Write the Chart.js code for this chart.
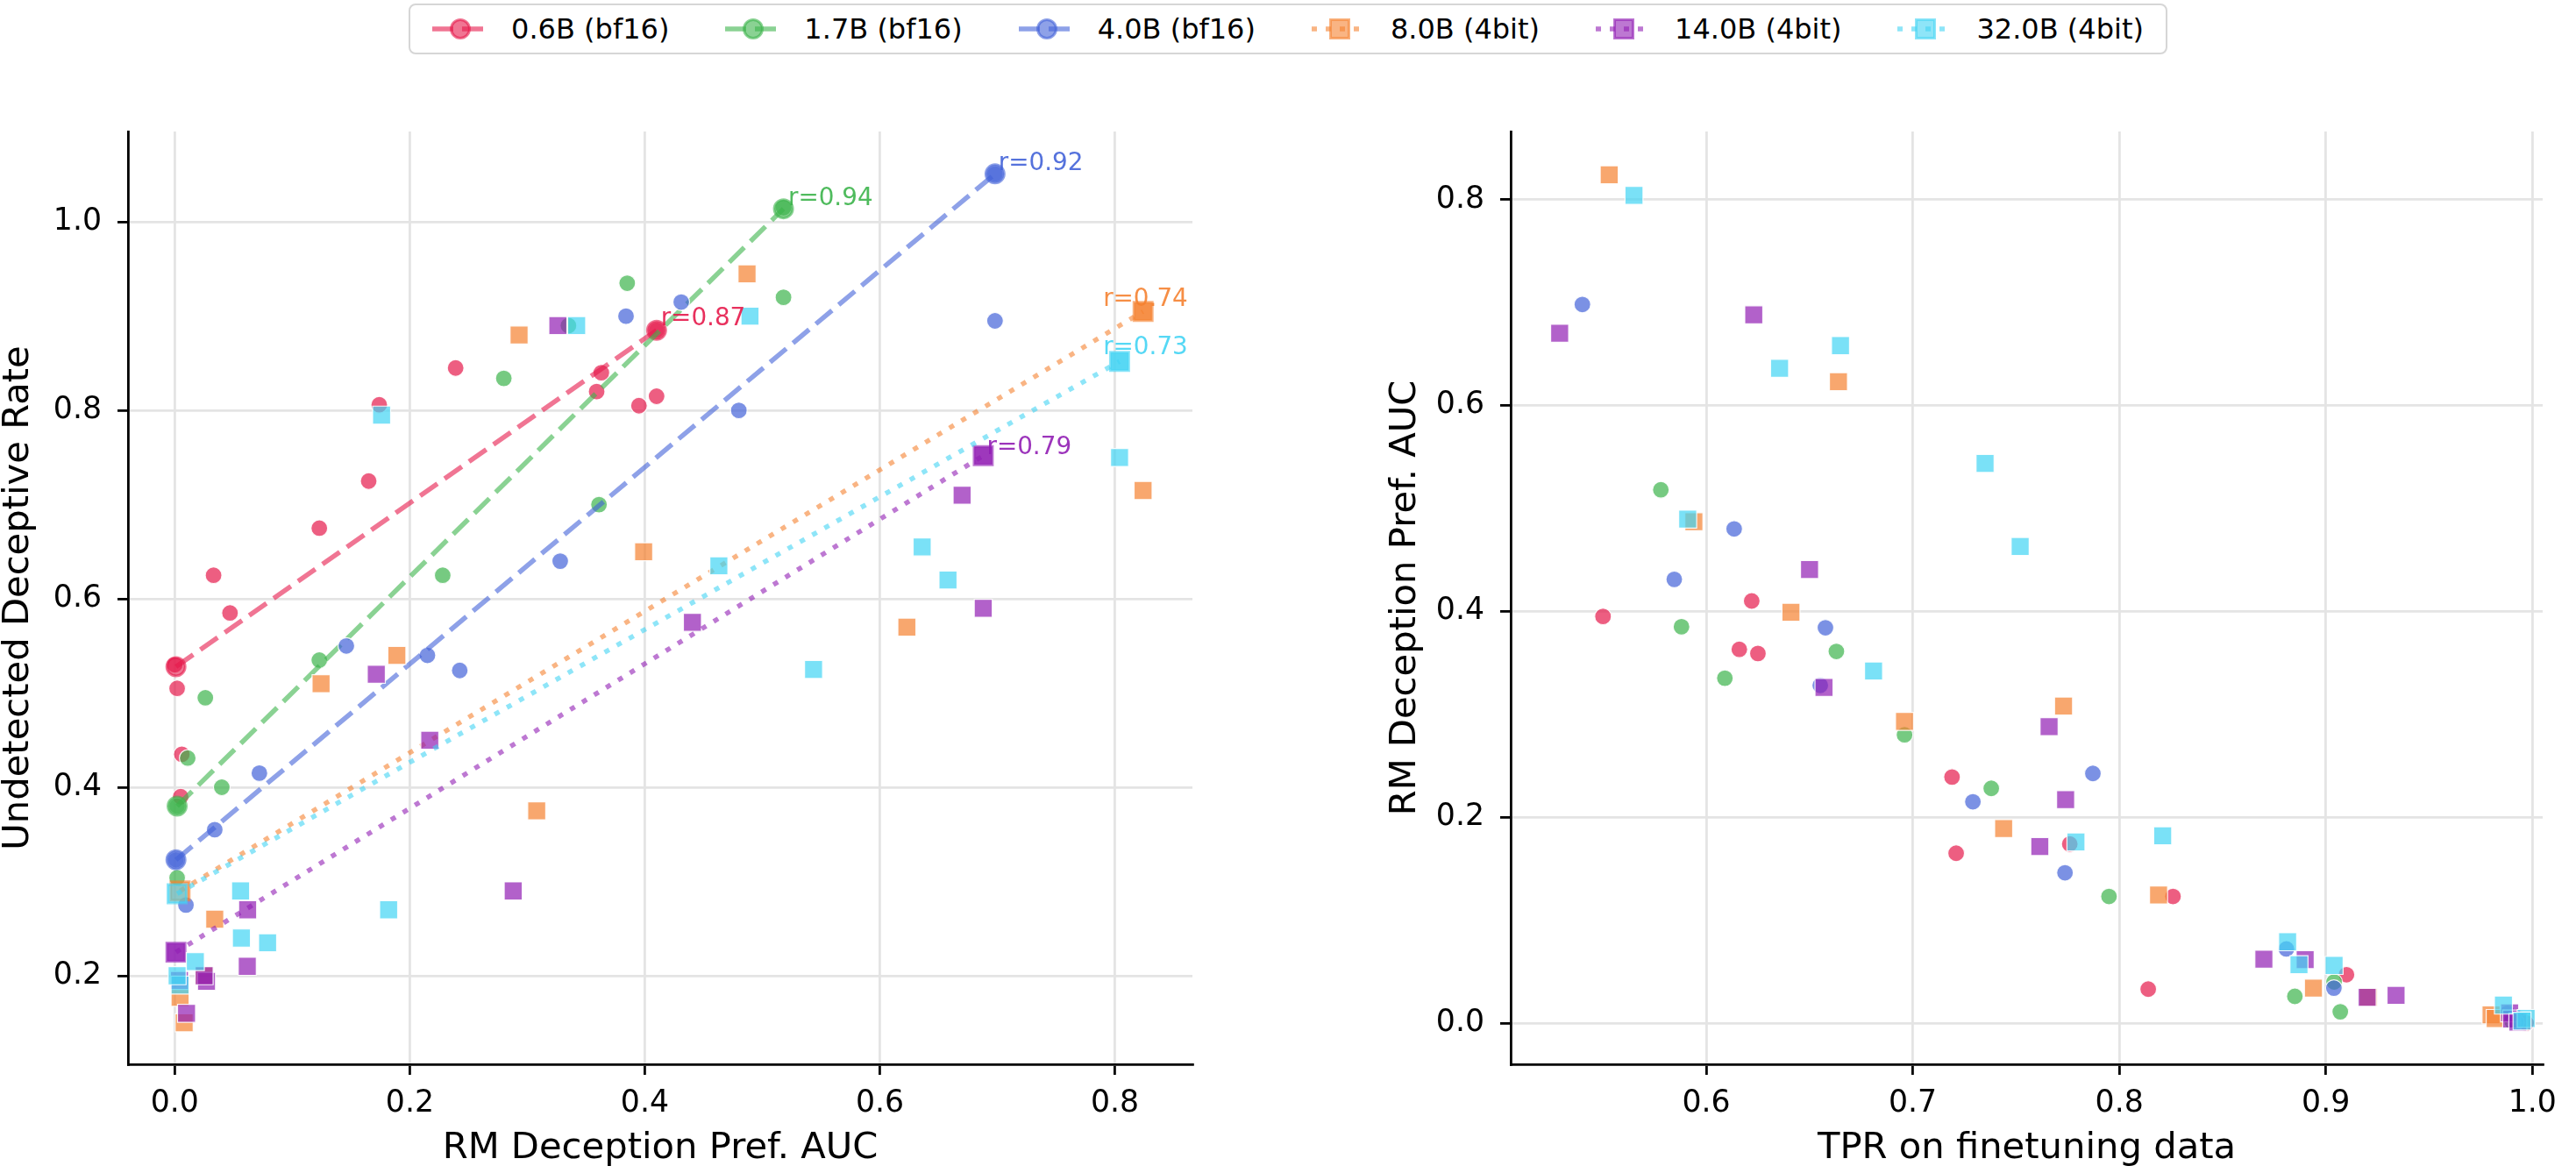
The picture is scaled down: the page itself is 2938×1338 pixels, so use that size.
<!DOCTYPE html>
<html>
<head>
<meta charset="utf-8">
<script src="https://cdn.jsdelivr.net/npm/chart.js"></script>
<style>
  body { margin: 0; background: #ffffff; overflow: hidden; }
  #wrap { position: relative; width: 2938px; height: 1338px; background: #ffffff; font-family: "DejaVu Sans", sans-serif; }
  #legend {
    position: absolute; left: 466px; top: 4px; width: 2006px; height: 58px;
    box-sizing: border-box; border: 2.5px solid #d6d6d6; border-radius: 8px;
    display: flex; align-items: center; justify-content: center; z-index: 2; background: #fff;
  }
  .lg-item { display: flex; align-items: center; font-size: 32px; color: #000; white-space: nowrap; }
  .lg-item canvas { margin-right: 26px; }
  .lg-item + .lg-item { margin-left: 64px; }
  canvas.panel { position: absolute; top: 0; }
</style>
</head>
<body>
<div id="wrap">
  <div id="legend"></div>
  <canvas id="leftChart" class="panel" width="1400" height="1338" style="left:0px"></canvas>
  <canvas id="rightChart" class="panel" width="1356" height="1338" style="left:1582px"></canvas>
</div>
<script>
// model groups
var seriesNames  = ['0.6B (bf16)', '1.7B (bf16)', '4.0B (bf16)', '8.0B (4bit)', '14.0B (4bit)', '32.0B (4bit)'];
var seriesColors = ['#e6194b', '#3cb44b', '#4363d8', '#f58231', '#911eb4', '#42d4f4'];
var seriesQuant  = ['bf16', 'bf16', 'bf16', '4bit', '4bit', '4bit'];

// each point: RM deception pref. AUC, undetected deceptive rate, TPR on finetuning data
// (null TPR = point not shown on the right panel)
var auc06 = [0.410, 0.410, 0.395, 0.363, 0.359, 0.239, 0.174, 0.165, 0.123, 0.047, 0.033, 0.006, 0.005, 0.002, 0.000];
var und06 = [0.885, 0.815, 0.805, 0.840, 0.820, 0.845, 0.806, 0.725, 0.675, 0.585, 0.625, 0.435, 0.390, 0.505, 0.530];
var tpr06 = [0.622, null, 0.550, 0.616, 0.625, 0.719, 0.776, 0.721, 0.826, 0.910, 0.814, 0.992, 0.990, 0.994, 0.997];

var auc17 = [0.518, 0.518, 0.385, 0.361, 0.335, 0.280, 0.228, 0.123, 0.040, 0.026, 0.011, 0.002, 0.002];
var und17 = [1.015, 0.920, 0.935, 0.700, 0.890, 0.834, 0.625, 0.535, 0.400, 0.495, 0.431, 0.380, 0.304];
var tpr17 = [0.578, null, 0.588, 0.663, 0.609, 0.696, 0.738, 0.795, 0.904, 0.885, 0.907, 0.990, null];

var auc40 = [0.698, 0.698, 0.480, 0.431, 0.384, 0.328, 0.2425, 0.215, 0.146, 0.072, 0.034, 0.0095, 0.001];
var und40 = [1.051, 0.895, 0.800, 0.915, 0.900, 0.640, 0.524, 0.540, 0.550, 0.415, 0.355, 0.275, 0.323];
var tpr40 = [0.540, null, 0.6135, 0.5845, 0.6577, 0.6552, 0.7872, 0.7291, 0.7737, 0.8809, 0.9039, 0.988, 0.992];

var auc80 = [0.824, 0.824, 0.623, 0.487, 0.399, 0.308, 0.293, 0.189, 0.1245, 0.034, 0.025, 0.008, 0.0045];
var und80 = [0.905, 0.715, 0.570, 0.945, 0.650, 0.375, 0.880, 0.540, 0.510, 0.260, 0.200, 0.150, 0.177];
var tpr80 = [0.553, null, 0.664, 0.594, 0.641, 0.773, 0.696, 0.744, 0.819, 0.894, 0.9205, 0.980, 0.982];

var auc140 = [0.688, 0.688, 0.670, 0.4405, 0.326, 0.288, 0.217, 0.1715, 0.062, 0.0617, 0.027, 0.025, 0.010, 0.004, 0.001];
var und140 = [0.752, 0.590, 0.710, 0.575, 0.890, 0.290, 0.450, 0.520, 0.270, 0.210, 0.194, 0.200, 0.160, 0.195, 0.225];
var tpr140 = [0.623, null, 0.529, 0.650, 0.657, 0.766, 0.774, 0.7615, 0.870, 0.890, 0.934, 0.920, 0.989, 0.990, 0.993];

var auc320 = [0.804, 0.804, 0.658, 0.636, 0.5436, 0.4895, 0.463, 0.342, 0.182, 0.176, 0.079, 0.0567, 0.056, 0.0175, 0.0045, 0.002];
var und320 = [0.852, 0.750, 0.620, 0.655, 0.525, 0.900, 0.635, 0.890, 0.270, 0.795, 0.235, 0.240, 0.290, 0.215, 0.190, 0.200];
var tpr320 = [0.565, null, 0.665, 0.6355, 0.735, 0.591, 0.752, 0.681, 0.821, 0.779, 0.8815, 0.887, 0.904, 0.986, 0.997, 0.995];

var aucAll = [auc06, auc17, auc40, auc80, auc140, auc320];
var undAll = [und06, und17, und40, und80, und140, und320];
var tprAll = [tpr06, tpr17, tpr40, tpr80, tpr140, tpr320];

// linear fit on the left panel: [x0, y0, x1, y1]
var fitRed    = [0.001, 0.528, 0.410, 0.885];
var fitGreen  = [0.002, 0.380, 0.518, 1.014];
var fitBlue   = [0.001, 0.323, 0.698, 1.051];
var fitOrange = [0.0045, 0.290, 0.824, 0.905];
var fitPurple = [0.001, 0.225, 0.688, 0.752];
var fitCyan   = [0.002, 0.287, 0.804, 0.852];
var fitAll = [fitRed, fitGreen, fitBlue, fitOrange, fitPurple, fitCyan];

// correlation labels and where they sit (data coords)
var rText = ['r=0.87', 'r=0.94', 'r=0.92', 'r=0.74', 'r=0.79', 'r=0.73'];
var rX    = [0.4136, 0.522, 0.701, 0.790, 0.691, 0.790];
var rY    = [0.890, 1.018, 1.055, 0.911, 0.754, 0.860];

// axes
var leftXTicks  = [0.0, 0.2, 0.4, 0.6, 0.8];
var leftYTicks  = [0.2, 0.4, 0.6, 0.8, 1.0];
var rightXTicks = [0.6, 0.7, 0.8, 0.9, 1.0];
var rightYTicks = [0.0, 0.2, 0.4, 0.6, 0.8];
var leftXRange  = [-0.0398, 0.866];
var leftYRange  = [0.106, 1.096];
var rightXRange = [0.5053, 1.005];
var rightYRange = [-0.040, 0.866];

var FONT = '"DejaVu Sans", sans-serif';

function rgba(hex, a) {
    var n = parseInt(hex.slice(1), 16);
    return 'rgba(' + ((n >> 16) & 255) + ',' + ((n >> 8) & 255) + ',' + (n & 255) + ',' + a + ')';
}

function isBf16(i) { return seriesQuant[i] === 'bf16'; }

// --- legend (line + marker handles) ---
var legendEl = document.getElementById('legend');
seriesNames.forEach(function(name, i) {
    var item = document.createElement('div');
    item.className = 'lg-item';
    var c = document.createElement('canvas');
    c.width = 64; c.height = 34;
    var ctx = c.getContext('2d');
    ctx.strokeStyle = rgba(seriesColors[i], 0.6);
    ctx.lineWidth = 5.5;
    ctx.setLineDash(isBf16(i) ? [24, 10] : [6, 10]);
    ctx.beginPath(); ctx.moveTo(0, 17); ctx.lineTo(64, 17); ctx.stroke();
    ctx.setLineDash([]);
    ctx.fillStyle = rgba(seriesColors[i], 0.6);
    ctx.lineWidth = 3;
    ctx.beginPath();
    if (isBf16(i)) ctx.arc(32, 17, 10.5, 0, Math.PI * 2);
    else ctx.rect(21.5, 6.5, 21, 21);
    ctx.fill(); ctx.stroke();
    item.appendChild(c);
    var span = document.createElement('span');
    span.textContent = name;
    item.appendChild(span);
    legendEl.appendChild(item);
});

// --- datasets ---
function scatterSets(panel) {
    var sets = [];
    seriesNames.forEach(function(name, i) {
        var pts = [];
        aucAll[i].forEach(function(a, k) {
            if (panel === 'left') pts.push({x: a, y: undAll[i][k]});
            else if (tprAll[i][k] !== null) pts.push({x: tprAll[i][k], y: a});
        });
        sets.push({
            type: 'scatter',
            label: name,
            data: pts,
            order: 100 - 2 * i,
            pointStyle: isBf16(i) ? 'circle' : 'rect',
            pointRadius: isBf16(i) ? 9.5 : 14.5,
            pointBackgroundColor: rgba(seriesColors[i], 0.7),
            pointBorderColor: 'rgba(255,255,255,0.9)',
            pointBorderWidth: 1.2,
            showLine: false
        });
        if (panel === 'left') {
            var f = fitAll[i];
            sets.push({
                type: 'scatter',
                label: name + ' fit',
                data: [{x: f[0], y: f[1]}, {x: f[2], y: f[3]}],
                order: 99 - 2 * i,
                showLine: true,
                borderColor: rgba(seriesColors[i], 0.6),
                borderWidth: 5.5,
                borderDash: isBf16(i) ? [24, 10] : [6, 10],
                borderCapStyle: 'butt',
                pointStyle: isBf16(i) ? 'circle' : 'rect',
                pointRadius: isBf16(i) ? 10.5 : 14.8,
                pointBackgroundColor: rgba(seriesColors[i], 0.6),
                pointBorderColor: rgba(seriesColors[i], 0.6),
                pointBorderWidth: 3,
                fill: false
            });
        }
    });
    return sets;
}

function axis(range, ticks, title, isX, boxSize) {
    return {
        type: 'linear',
        position: isX ? 'bottom' : 'left',
        min: range[0],
        max: range[1],
        afterBuildTicks: function(scale) {
            scale.ticks = ticks.map(function(v) { return {value: v}; });
        },
        afterFit: function(scale) {
            if (isX) scale.height = boxSize; else scale.width = boxSize;
        },
        grid: {
            color: '#e4e4e4',
            lineWidth: 2.8,
            drawTicks: true,
            tickLength: 12,
            tickColor: '#000',
            tickWidth: 2.8
        },
        border: { display: true, color: '#000', width: 2.8 },
        ticks: {
            color: '#000',
            font: { family: FONT, size: 34.7 },
            padding: isX ? 12 : 18,
            maxRotation: 0,
            autoSkip: false,
            callback: function(v) { return Number(v).toFixed(1); }
        },
        title: {
            display: true,
            text: title,
            color: '#000',
            font: { family: FONT, size: 41.7, lineHeight: 1 },
            padding: isX ? { top: 0, bottom: 7 } : { top: 0, bottom: 0 }
        }
    };
}

var rLabelPlugin = {
    id: 'rLabels',
    afterDatasetsDraw: function(chart) {
        var ctx = chart.ctx;
        var xs = chart.scales.x, ys = chart.scales.y;
        ctx.save();
        ctx.font = '27.8px ' + FONT;
        ctx.textAlign = 'left';
        ctx.textBaseline = 'alphabetic';
        rText.forEach(function(t, i) {
            ctx.fillStyle = rgba(seriesColors[i], 0.9);
            ctx.fillText(t, xs.getPixelForValue(rX[i]), ys.getPixelForValue(rY[i]));
        });
        ctx.restore();
    }
};

var baseOpts = {
    responsive: false,
    animation: false,
    events: [],
    plugins: { legend: { display: false }, tooltip: { enabled: false } }
};

new Chart(document.getElementById('leftChart').getContext('2d'), {
    type: 'scatter',
    data: { datasets: scatterSets('left') },
    options: Object.assign({}, baseOpts, {
        layout: { padding: { top: 150, right: 40, left: 0, bottom: 0 } },
        scales: {
            x: axis(leftXRange, leftXTicks, 'RM Deception Pref. AUC', true, 124),
            y: axis(leftYRange, leftYTicks, 'Undetected Deceptive Rate', false, 146)
        }
    }),
    plugins: [rLabelPlugin]
});

new Chart(document.getElementById('rightChart').getContext('2d'), {
    type: 'scatter',
    data: { datasets: scatterSets('right') },
    options: Object.assign({}, baseOpts, {
        layout: { padding: { top: 150, right: 38, left: 0, bottom: 0 } },
        scales: {
            x: axis(rightXRange, rightXTicks, 'TPR on finetuning data', true, 124),
            y: axis(rightYRange, rightYTicks, 'RM Deception Pref. AUC', false, 141)
        }
    })
});
</script>
</body>
</html>
